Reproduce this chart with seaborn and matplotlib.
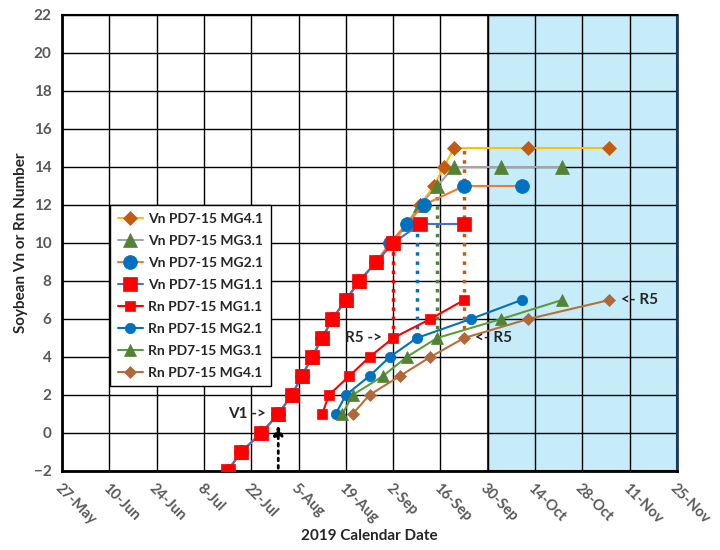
import pandas as pd
import matplotlib
matplotlib.use('Agg')
import matplotlib.pyplot as plt
import matplotlib.dates as mdates
import seaborn as sns

# Vn (vegetative) stages, dates and node numbers
vn_mg11_dates = ['2019-07-15', '2019-07-19', '2019-07-25', '2019-07-30', '2019-08-03', '2019-08-06',
                 '2019-08-09', '2019-08-12', '2019-08-15', '2019-08-19', '2019-08-23', '2019-08-28',
                 '2019-09-02', '2019-09-10', '2019-09-23']
vn_mg11_vals = [-2, -1, 0, 1, 2, 3, 4, 5, 6, 7, 8, 9, 10, 11, 11]

vn_mg21_dates = ['2019-07-15', '2019-07-19', '2019-07-25', '2019-07-30', '2019-08-03', '2019-08-06',
                 '2019-08-09', '2019-08-12', '2019-08-15', '2019-08-19', '2019-08-23', '2019-08-28',
                 '2019-09-01', '2019-09-06', '2019-09-11', '2019-09-23', '2019-10-10']
vn_mg21_vals = [-2, -1, 0, 1, 2, 3, 4, 5, 6, 7, 8, 9, 10, 11, 12, 13, 13]

vn_mg31_dates = ['2019-07-15', '2019-07-19', '2019-07-25', '2019-07-30', '2019-08-03', '2019-08-06',
                 '2019-08-09', '2019-08-12', '2019-08-15', '2019-08-19', '2019-08-23', '2019-08-28',
                 '2019-09-02', '2019-09-06', '2019-09-10', '2019-09-15', '2019-09-20', '2019-10-04',
                 '2019-10-22']
vn_mg31_vals = [-2, -1, 0, 1, 2, 3, 4, 5, 6, 7, 8, 9, 10, 11, 12, 13, 14, 14, 14]

vn_mg41_dates = ['2019-07-15', '2019-07-19', '2019-07-25', '2019-07-30', '2019-08-03', '2019-08-06',
                 '2019-08-09', '2019-08-12', '2019-08-15', '2019-08-19', '2019-08-23', '2019-08-28',
                 '2019-09-02', '2019-09-06', '2019-09-10', '2019-09-14', '2019-09-17', '2019-09-20',
                 '2019-10-12', '2019-11-05']
vn_mg41_vals = [-2, -1, 0, 1, 2, 3, 4, 5, 6, 7, 8, 9, 10, 11, 12, 13, 14, 15, 15, 15]

# Rn (reproductive) stages
rn_vals = [1, 2, 3, 4, 5, 6, 7]
rn_mg11_dates = ['2019-08-12', '2019-08-14', '2019-08-20', '2019-08-26', '2019-09-02', '2019-09-13', '2019-09-23']
rn_mg21_dates = ['2019-08-16', '2019-08-19', '2019-08-26', '2019-09-01', '2019-09-09', '2019-09-25', '2019-10-10']
rn_mg31_dates = ['2019-08-18', '2019-08-21', '2019-08-30', '2019-09-06', '2019-09-15', '2019-10-04', '2019-10-22']
rn_mg41_dates = ['2019-08-21', '2019-08-26', '2019-09-04', '2019-09-13', '2019-09-23', '2019-10-12', '2019-11-05']

# R5 drop lines (date, Rn value, Vn value)
r5_dates = ['2019-09-02', '2019-09-09', '2019-09-15', '2019-09-23']
r5_low = [5, 5, 5, 5]
r5_high = [10, 11, 13, 15]
r5_colors = ['#FF0000', '#0070C0', '#548235', '#C55A11']

v1_date = '2019-07-30'

sns.set_style('white')
plt.rcParams['font.family'] = ['Lato', 'DejaVu Sans']
plt.rcParams['font.weight'] = 'bold'

fig = plt.figure(figsize=(7.2, 5.5), dpi=100)
ax = fig.add_axes([62 / 720, 1 - 471 / 550, 615 / 720, 456 / 550])

def d(lst):
    return pd.to_datetime(pd.Series(lst))

# shaded late-season area
ax.axvspan(pd.Timestamp('2019-09-30'), pd.Timestamp('2019-11-25'), facecolor='#C6ECFA',
           edgecolor='#1F3864', lw=1.5, zorder=0)

series = [
    ('Vn PD7-15 MG4.1', vn_mg41_dates, vn_mg41_vals, '#FFC000', 'D', '#C55A11', 7.5),
    ('Vn PD7-15 MG3.1', vn_mg31_dates, vn_mg31_vals, '#A5A5A5', '^', '#548235', 10),
    ('Vn PD7-15 MG2.1', vn_mg21_dates, vn_mg21_vals, '#ED7D31', 'o', '#0070C0', 10),
    ('Vn PD7-15 MG1.1', vn_mg11_dates, vn_mg11_vals, '#4472C4', 's', '#FF0000', 9.5),
    ('Rn PD7-15 MG1.1', rn_mg11_dates, rn_vals, '#FF0000', 's', '#FF0000', 7),
    ('Rn PD7-15 MG2.1', rn_mg21_dates, rn_vals, '#0070C0', 'o', '#0070C0', 7.5),
    ('Rn PD7-15 MG3.1', rn_mg31_dates, rn_vals, '#5A9E3C', '^', '#548235', 8),
    ('Rn PD7-15 MG4.1', rn_mg41_dates, rn_vals, '#B8703A', 'D', '#B0683A', 6.5),
]

for label, dates, vals, lc, mk, mc, ms in series:
    sns.lineplot(x=d(dates), y=vals, ax=ax, sort=False, estimator=None, label=label,
                 color=lc, lw=1.5, marker=mk, markersize=ms, markerfacecolor=mc,
                 markeredgecolor=mc, markeredgewidth=0.5, zorder=3)

for dt, lo, hi, c in zip(r5_dates, r5_low, r5_high, r5_colors):
    ax.plot([pd.Timestamp(dt)] * 2, [lo, hi], ls=':', lw=2.5, color=c, zorder=2)

# V1 arrow
ax.annotate('', xy=(pd.Timestamp(v1_date), 0.55), xytext=(pd.Timestamp(v1_date), -2),
            arrowprops=dict(arrowstyle='-|>', ls=':', lw=2, color='black', mutation_scale=14),
            zorder=4)

txt = dict(fontsize=11, fontweight='bold', color='#262626', va='center',
           textcoords='offset points')
ax.annotate('V1 ->', xy=(pd.Timestamp(v1_date), 1), xytext=(-9, 0), ha='right', **txt)
ax.annotate('R5 ->', xy=(pd.Timestamp(rn_mg11_dates[4]), 5), xytext=(-8, 0), ha='right', **txt)
ax.annotate('<- R5', xy=(pd.Timestamp(rn_mg41_dates[4]), 5), xytext=(8, 0), ha='left', **txt)
ax.annotate('<- R5', xy=(pd.Timestamp(rn_mg41_dates[6]), 7), xytext=(8, 0), ha='left', **txt)

# axes
ax.set_xlim(pd.Timestamp('2019-05-27'), pd.Timestamp('2019-11-25'))
ax.set_ylim(-2, 22)
ax.set_xticks(pd.date_range('2019-05-27', '2019-11-25', freq='14D'))
ax.set_xticks(pd.date_range('2019-05-27', '2019-11-25', freq='7D'), minor=True)
ax.xaxis.set_major_formatter(mdates.DateFormatter('%-d-%b'))
ax.set_yticks(range(-2, 23, 2))
ax.set_yticks(range(-1, 22, 2), minor=True)
ax.grid(True, which='major', color='black', lw=1)
ax.set_axisbelow(True)

ax.tick_params(which='both', direction='inout', length=8, width=1.5, color='black',
               labelcolor='#595959', labelsize=11)
for lab in ax.get_xticklabels():
    lab.set_rotation(-45)
    lab.set_ha('left')
    lab.set_rotation_mode('anchor')
    lab.set_fontweight('bold')
    lab.set_fontsize(10.5)
for lab in ax.get_yticklabels():
    lab.set_fontweight('bold')

for s in ['left', 'bottom']:
    ax.spines[s].set_linewidth(2)
    ax.spines[s].set_color('black')
ax.spines['top'].set_linewidth(1.5)
ax.spines['top'].set_color('black')
ax.spines['right'].set_linewidth(2)
ax.spines['right'].set_color('#1F3864')

ax.set_xlabel('2019 Calendar Date', fontsize=11, fontweight='bold', color='#262626')
ax.xaxis.set_label_coords(0.5, -0.128)
ax.set_ylabel('Soybean Vn or Rn Number', fontsize=11, fontweight='bold', color='#262626')
ax.yaxis.set_label_coords(-0.056, 0.5)

leg = ax.legend(loc='upper left', bbox_to_anchor=(0.078, 0.583), fancybox=False, framealpha=1,
                edgecolor='black', fontsize=10, handlelength=1.8, handletextpad=0.4,
                labelspacing=0.72, borderpad=0.55, borderaxespad=0)
leg.get_frame().set_linewidth(1)
for t in leg.get_texts():
    t.set_fontweight('bold')
    t.set_color('#262626')

fig.savefig('out.png', dpi=100)
